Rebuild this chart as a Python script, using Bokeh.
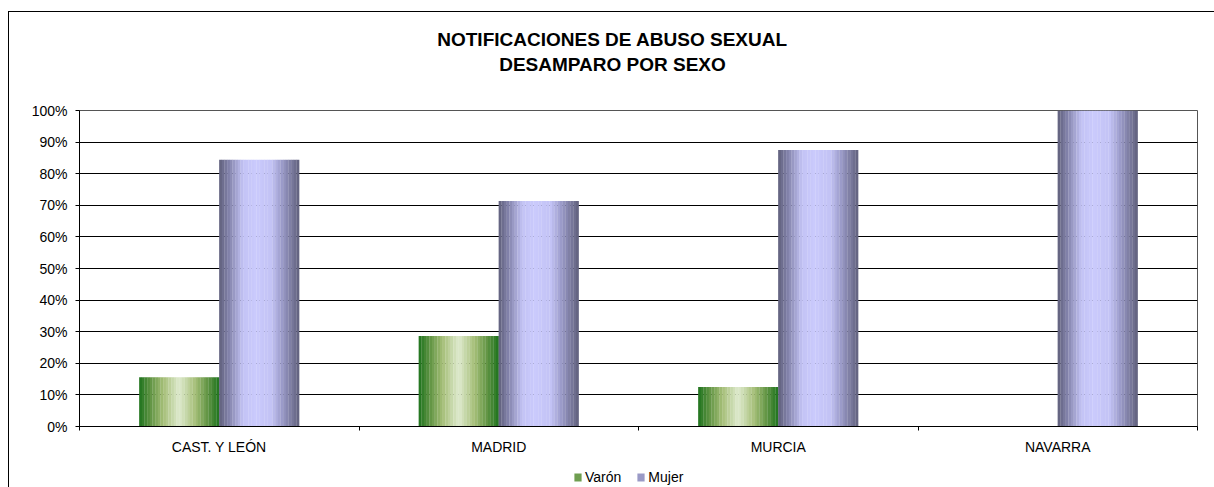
from bokeh.plotting import figure
from bokeh.layouts import column
from bokeh.models import (ColumnDataSource, Range1d, FixedTicker, Legend, Label,
                          LegendItem, NumeralTickFormatter, InlineStyleSheet)
from bokeh.embed import file_html
from bokeh.resources import INLINE

# ---- data ----
categories = ["CAST. Y LEÓN", "MADRID", "MURCIA", "NAVARRA"]
series = ["Varón", "Mujer"]
varon = [15.6, 28.6, 12.5, 0.0]
mujer = [84.4, 71.4, 87.5, 100.0]
y_ticks = [0, 10, 20, 30, 40, 50, 60, 70, 80, 90, 100]
title_lines = ["NOTIFICACIONES DE ABUSO SEXUAL", "DESAMPARO POR SEXO"]

# ---- styling (gradient profiles) ----
green_stops = [(0.0, (30, 115, 30)), (0.15, (100, 150, 70)), (0.3, (165, 190, 120)),
               (0.5, (222, 234, 205)), (0.7, (165, 190, 120)), (0.85, (100, 150, 70)),
               (1.0, (30, 115, 30))]
purple_stops = [(0.0, (96, 96, 124)), (0.12, (130, 130, 170)), (0.3, (195, 195, 245)),
                (0.45, (202, 202, 252)), (0.65, (195, 195, 245)), (0.8, (150, 150, 195)),
                (1.0, (96, 96, 124))]


def grad(stops, t):
    for (t0, c0), (t1, c1) in zip(stops[:-1], stops[1:]):
        if t0 <= t <= t1:
            f = (t - t0) / (t1 - t0) if t1 > t0 else 0
            c = [round(a + (b - a) * f) for a, b in zip(c0, c1)]
            return "#%02x%02x%02x" % tuple(c)
    return "#%02x%02x%02x" % stops[-1][1]


BAR_W = 0.2862
NSTRIP = 30
W = 1214
FRAME_L, FRAME_R = 79, 1197
FONT = "Liberation Sans"

# outer chart border (left and top edges) painted as the layout's background
border_css = InlineStyleSheet(css="""
:host {
  background:
    linear-gradient(#000, #000) 8px 11px / 1px 100% no-repeat,
    linear-gradient(#000, #000) 8px 11px / 100% 1px no-repeat,
    #ffffff;
}
""")


def blank_fig(h):
    # frames of plots in a column are aligned with the main chart's frame
    f = figure(width=W, height=h, output_backend="svg", toolbar_location=None,
               x_range=Range1d(FRAME_L, FRAME_R), y_range=Range1d(h, 0),
               x_axis_location=None, y_axis_location=None,
               min_border=0, min_border_left=0, min_border_right=0,
               min_border_top=0, min_border_bottom=0)
    f.grid.visible = False
    f.outline_line_color = None
    f.background_fill_color = None
    f.border_fill_color = None
    return f


# ---- title strip ----
tfig = blank_fig(100)
for txt, yy in zip(title_lines, [39.0, 64.0]):
    tfig.add_layout(Label(x=612, y=yy, text=txt, text_align="center",
                          text_baseline="middle", text_font=FONT,
                          text_font_style="bold", text_font_size="19px",
                          text_color="black"))

# ---- main chart ----
p = figure(width=W, height=362, output_backend="svg", toolbar_location=None,
           x_range=Range1d(0, 4), y_range=Range1d(0, 1),
           min_border_left=FRAME_L, min_border_right=W - FRAME_R,
           min_border_top=10, min_border_bottom=36)
p.background_fill_color = "white"
p.border_fill_color = None
p.outline_line_color = "#555555"
p.outline_line_width = 1


def add_series(vals, offset_index, stops):
    xs, tops, cols = [], [], []
    sw = BAR_W / NSTRIP
    for i, v in enumerate(vals):
        center = i + 0.5
        left = center + (offset_index - 1) * BAR_W
        for k in range(NSTRIP):
            xs.append(left + (k + 0.5) * sw)
            tops.append(v / 100.0)
            cols.append(grad(stops, (k + 0.5) / NSTRIP))
    src = ColumnDataSource(dict(x=xs, top=tops, color=cols))
    p.vbar(x="x", top="top", bottom=0, width=sw * 1.08, source=src,
           fill_color="color", line_color=None)


add_series(varon, 0, green_stops)
add_series(mujer, 1, purple_stops)

p.yaxis.ticker = FixedTicker(ticks=[t / 100 for t in y_ticks])
p.yaxis.formatter = NumeralTickFormatter(format="0%")
p.yaxis.major_label_text_font = FONT
p.yaxis.major_label_text_font_size = "14px"
p.yaxis.major_label_text_color = "black"
p.yaxis.major_tick_out = 4
p.yaxis.major_tick_in = 0
p.yaxis.minor_tick_line_color = None
p.yaxis.axis_line_color = "black"
p.yaxis.major_tick_line_color = "black"
p.yaxis.major_label_standoff = 8

p.xaxis.ticker = FixedTicker(ticks=[i + 0.5 for i in range(len(categories))],
                             minor_ticks=list(range(len(categories) + 1)))
p.xaxis.major_label_overrides = {i + 0.5: c for i, c in enumerate(categories)}
p.xaxis.major_label_text_font = FONT
p.xaxis.major_label_text_font_size = "14px"
p.xaxis.major_label_text_color = "black"
p.xaxis.major_tick_line_color = None
p.xaxis.minor_tick_line_color = "black"
p.xaxis.minor_tick_out = 4
p.xaxis.minor_tick_in = 0
p.xaxis.axis_line_color = "black"
p.xaxis.major_label_standoff = 6

p.xgrid.grid_line_color = None
p.ygrid.grid_line_color = "black"
p.ygrid.grid_line_width = 1

# ---- legend strip ----
lfig = blank_fig(25)
r_v = lfig.vbar(x=[FRAME_L], top=[0], bottom=[0], width=0, fill_color="#6f9e50",
                line_color=None)
r_m = lfig.vbar(x=[FRAME_L], top=[0], bottom=[0], width=0, fill_color="#9a9ac6",
                line_color=None)
legend = Legend(items=[LegendItem(label=series[0], renderers=[r_v]),
                       LegendItem(label=series[1], renderers=[r_m])],
                orientation="horizontal", location=(573 - FRAME_L, 2),
                glyph_width=9, glyph_height=10, label_standoff=3, spacing=15,
                padding=2, margin=0, border_line_color=None,
                background_fill_alpha=0, label_height=14,
                label_text_font=FONT, label_text_font_size="14px",
                label_text_color="black")
lfig.add_layout(legend)

layout = column(tfig, p, lfig, spacing=0, stylesheets=[border_css])

open("out.html", "w").write(file_html(layout, INLINE))
